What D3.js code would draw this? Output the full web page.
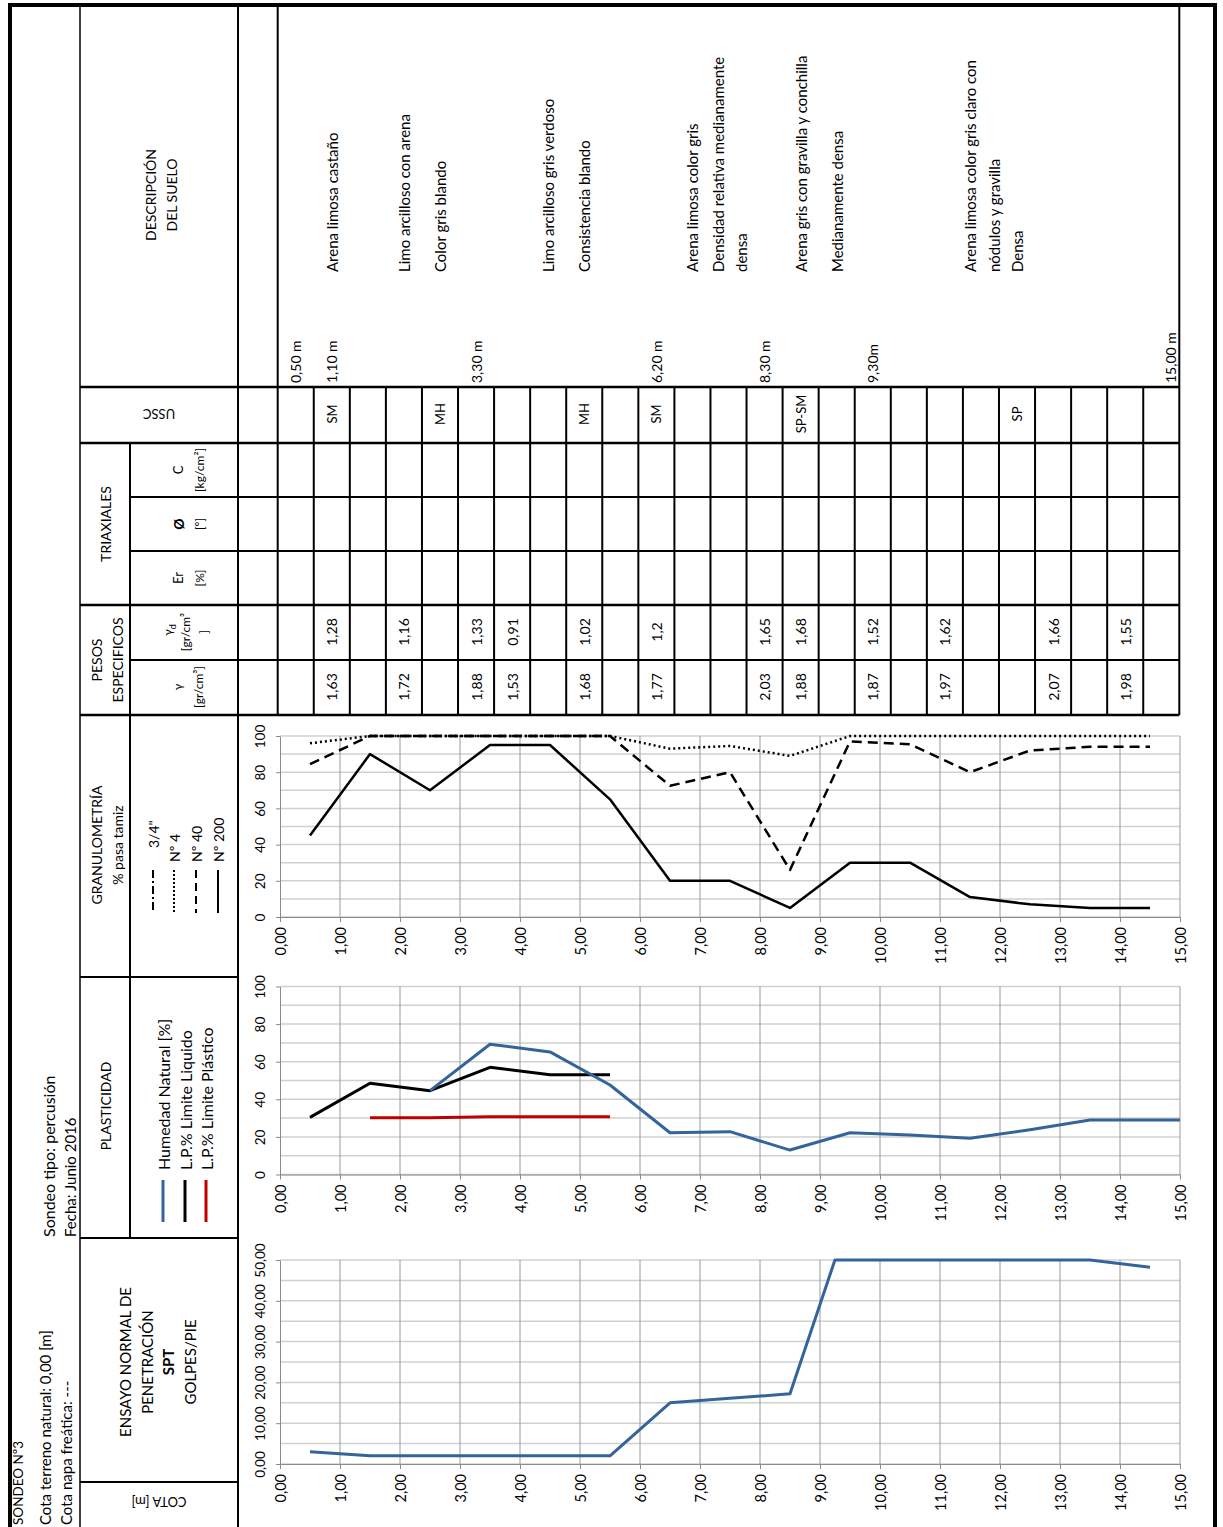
<!DOCTYPE html>
<html>
<head>
<meta charset="utf-8">
<script src="https://cdn.jsdelivr.net/npm/d3@7"></script>
<style>
  body { margin: 0; background: #fff; }
  text { font-family: Lato, "Open Sans", sans-serif; fill: #000; }
</style>
</head>
<body>
<div id="chart"></div>
<script>
// ---- datos del sondeo ----
const profundidades = [0.5, 1.5, 2.5, 3.5, 4.5, 5.5, 6.5, 7.5, 8.5, 9.5, 10.5, 11.5, 12.5, 13.5, 14.5];
const pasaTres4 = [null, 100, 100, 100, 100, 100, null, null, null, null, null, null, null, null, null];
const pasaN4 = [96, 100, 100, 100, 100, 100, 93, 94.5, 89, 100, 100, 100, 100, 100, 100];
const pasaN40 = [84.5, 100, 100, 100, 100, 100, 72.5, 80, 26, 97, 95.5, 80, 92, 94, 94];
const pasaN200 = [45, 90, 70, 95, 95, 65, 20, 20, 5, 30, 30, 11, 7, 5, 5];

const profHumedad = [2.5, 3.5, 4.5, 5.5, 6.5, 7.5, 8.5, 9.5, 10.5, 11.5, 12.5, 13.5, 14.5, 15];
const humedad = [44.6, 69.3, 65.2, 47.6, 22.2, 22.8, 13, 22.2, 21, 19.3, 23.8, 29, 29, 29];
const profLimites = [0.5, 1.5, 2.5, 3.5, 4.5, 5.5];
const limLiquido = [30.4, 48.5, 44.6, 57, 53, 53];
const limPlastico = [null, 30.2, 30.2, 30.7, 30.7, 30.7];

const golpesSPT = [3, 2, 2, 2, 2, 2, 15, 16.1, 17.2, 61, 50, 50, 50, 50, 48.2];

const profTicks = [0, 1, 2, 3, 4, 5, 6, 7, 8, 9, 10, 11, 12, 13, 14, 15];

// tabla (columnas de la grilla superior)
const usscCols = [1, 4, 8, 10, 14, 20];
const usscLabels = ["SM", "MH", "MH", "SM", "SP-SM", "SP"];
const pesosCols = [1, 3, 5, 6, 8, 10, 13, 14, 16, 18, 21, 23];
const gammaD = [1.28, 1.16, 1.33, 0.91, 1.02, 1.2, 1.65, 1.68, 1.52, 1.62, 1.66, 1.55];
const gamma = [1.63, 1.72, 1.88, 1.53, 1.68, 1.77, 2.03, 1.88, 1.87, 1.97, 2.07, 1.98];

const cotaCols = [0, 1, 5, 10, 13, 16, 24.25];
const cotaLabels = ["0,50 m", "1,10 m", "3,30 m", "6,20 m", "8,30 m", "9,30m", "15,00 m"];
const descCols = [1, 3, 4, 7, 8, 11, 11.7, 12.35, 14, 15, 18.7, 19.35, 20];
const descTextos = [
  "Arena limosa castaño",
  "Limo arcilloso con arena", "Color gris blando",
  "Limo arcilloso gris verdoso", "Consistencia blando",
  "Arena limosa color gris", "Densidad relativa medianamente", "densa",
  "Arena gris con gravilla y conchilla", "Medianamente densa",
  "Arena limosa color gris claro con", "nódulos y gravilla", "Densa"
];

// ---- lienzo ----
const width = 1223, height = 1527;
const svg = d3.select("#chart").append("svg")
  .attr("width", width).attr("height", height);

const coma = v => String(v).replace(".", ",");
const fmt2 = v => d3.format(".2f")(v).replace(".", ",");

// escala de columnas de la tabla y de profundidad
const col = d3.scaleLinear().domain([0, 25]).range([277.7, 1179.3]);
const x = d3.scaleLinear().domain([0, 15]).range([280, 1180]);

function linea(x1, y1, x2, y2, w) {
  svg.append("line").attr("x1", x1).attr("y1", y1).attr("x2", x2).attr("y2", y2)
    .attr("stroke", "#000").attr("stroke-width", w || 2);
}

function vtext(px, py, str, o = {}) {
  return svg.append("text")
    .attr("transform", `translate(${px},${py}) rotate(${o.rot || -90})`)
    .attr("text-anchor", o.anchor || "middle")
    .attr("dominant-baseline", "central")
    .style("font-size", (o.size || 14) + "px")
    .style("font-weight", o.bold ? "bold" : null)
    .text(str);
}

// ---- grilla de la tabla ----
linea(80, 5, 80, 1527, 1.5);
linea(238, 5, 238, 1527, 2);
linea(col(0), 5, col(0), 715, 2);
linea(col(25), 5, col(25), 715, 2);
d3.range(1, 25).forEach(i => linea(col(i), 387, col(i), 715, 2));
[387, 443, 605, 715].forEach(yy => linea(80, yy, col(25), yy, 2.5));
[497, 551, 660].forEach(yy => linea(130, yy, col(25), yy, 2));
linea(130, 443, 130, 1238, 2);
[977, 1238, 1482].forEach(yy => linea(80, yy, 238, yy, 2));

// marco exterior
svg.append("rect").attr("x", 10).attr("y", 5).attr("width", 1205).attr("height", 1530)
  .attr("fill", "none").attr("stroke", "#000").attr("stroke-width", 4);

// ---- encabezados ----
vtext(150, 195, "DESCRIPCIÓN");
vtext(171, 195, "DEL SUELO");
vtext(159, 414, "USSC", { rot: 180, size: 13 });
vtext(105, 524, "TRIAXIALES");
vtext(178, 470, "C", { size: 13 }); vtext(199, 470, "[kg/cm²]", { size: 12 });
vtext(178, 524, "Ø", { size: 14, bold: true }); vtext(199, 524, "[º]", { size: 12 });
vtext(178, 578, "Er", { size: 13 }); vtext(199, 578, "[%]", { size: 12 });
vtext(96, 660, "PESOS");
vtext(117, 660, "ESPECIFICOS");
const gd = vtext(167, 630, "γ", { size: 12 });
gd.append("tspan").attr("baseline-shift", "sub").style("font-size", "9px").text("d");
vtext(185, 632, "[gr/cm³", { size: 12 });
vtext(203, 632, "]", { size: 12 });
vtext(177, 687, "γ", { size: 12 });
vtext(198, 687, "[gr/cm³]", { size: 12 });
vtext(96, 845, "GRANULOMETRÍA");
vtext(117, 845, "% pasa tamiz");
vtext(105, 1106, "PLASTICIDAD");
vtext(125, 1362, "ENSAYO NORMAL DE", { size: 15 });
vtext(147, 1362, "PENETRACIÓN", { size: 15 });
vtext(168, 1362, "SPT", { bold: true, size: 15 });
vtext(190, 1362, "GOLPES/PIE", { size: 15 });
vtext(159, 1502, "COTA [m]", { rot: 180, size: 13 });

vtext(18, 1525, "SONDEO Nº3", { anchor: "start", size: 13.5 });
vtext(45, 1525, "Cota terreno natural: 0,00 [m]", { anchor: "start", size: 15 });
vtext(66, 1525, "Cota napa freática: ---", { anchor: "start", size: 15 });
vtext(48, 1237, "Sondeo tipo: percusión", { anchor: "start", size: 16 });
vtext(70, 1237, "Fecha: Junio 2016", { anchor: "start", size: 15 });

// ---- descripción del suelo ----
cotaCols.forEach((c, i) => vtext(col(c + 0.5), 383, cotaLabels[i], { anchor: "start" }));
descCols.forEach((c, i) => vtext(col(c + 0.5), 272, descTextos[i], { anchor: "start", size: 15 }));

// ---- USSC y pesos específicos ----
usscCols.forEach((c, i) => vtext(col(c + 0.5), 414, usscLabels[i], { size: 13 }));
pesosCols.forEach((c, i) => {
  vtext(col(c + 0.5), 632, coma(gammaD[i]));
  vtext(col(c + 0.5), 687, coma(gamma[i]));
});

// ---- gráficos ----
function grafico(y0, y1, maxY, pasoGrid, pasoLabel, fmtY) {
  const y = d3.scaleLinear().domain([0, maxY]).range([y0, y1]);
  const g = svg.append("g");
  g.selectAll("line.h").data(d3.range(0, maxY + pasoGrid / 2, pasoGrid)).enter()
    .append("line").attr("class", "h")
    .attr("x1", x(0)).attr("x2", x(15))
    .attr("y1", d => y(d)).attr("y2", d => y(d))
    .attr("stroke", "#d0d0d0").attr("stroke-width", 1.5);
  g.selectAll("line.v").data(profTicks.slice(1)).enter()
    .append("line").attr("class", "v")
    .attr("x1", d => x(d)).attr("x2", d => x(d))
    .attr("y1", y(0)).attr("y2", y(maxY))
    .attr("stroke", "#9a9a9a").attr("stroke-width", 1);

  const ax = g.append("g").attr("transform", `translate(0,${y0})`)
    .call(d3.axisBottom(x).tickValues(profTicks).tickFormat(fmt2).tickSize(5).tickSizeOuter(0));
  ax.select(".domain").attr("stroke", "#8a8a8a");
  ax.selectAll(".tick line").attr("stroke", "#8a8a8a");
  ax.selectAll("text")
    .attr("transform", "rotate(-90)")
    .attr("text-anchor", "end")
    .attr("x", -10).attr("y", 0).attr("dy", "0.35em")
    .style("font-size", "14.5px").style("font-family", "Lato, sans-serif").attr("fill", "#000");

  const ay = g.append("g").attr("transform", `translate(${x(0)},0)`)
    .call(d3.axisLeft(y).tickValues(d3.range(0, maxY + 1, pasoLabel)).tickFormat(fmtY).tickSize(4).tickSizeOuter(0));
  ay.select(".domain").attr("stroke", "#8a8a8a");
  ay.selectAll(".tick line").attr("stroke", "#8a8a8a");
  ay.selectAll("text")
    .attr("transform", "rotate(-90)")
    .attr("text-anchor", "middle")
    .attr("x", 0).attr("y", -15).attr("dy", 0)
    .style("font-size", "13.5px").style("font-family", "Lato, sans-serif").attr("fill", "#000");
  return { g, y };
}

function serie(ch, profs, vals, color, w, dash) {
  const pts = profs.map((p, i) => [p, vals[i]]);
  const line = d3.line().defined(d => d[1] != null)
    .x(d => x(d[0])).y(d => ch.y(d[1]));
  ch.g.append("path").datum(pts)
    .attr("d", line).attr("fill", "none")
    .attr("stroke", color).attr("stroke-width", w)
    .attr("stroke-dasharray", dash || null)
    .attr("stroke-linejoin", "round");
}

// recorta la serie al máximo del eje (como lo hace la planilla)
function recortar(profs, vals, max) {
  const out = [];
  vals.forEach((v, i) => {
    if (i > 0) {
      const q = vals[i - 1];
      if ((q - max) * (v - max) < 0) {
        const t = (max - q) / (v - q);
        out.push([profs[i - 1] + t * (profs[i] - profs[i - 1]), max]);
      }
    }
    out.push([profs[i], Math.min(v, max)]);
  });
  return out;
}

// granulometría
const gran = grafico(917, 736, 100, 10, 20, d => d);
serie(gran, profundidades, pasaN200, "#000", 2.5);
serie(gran, profundidades, pasaN40, "#000", 2.5, "10,6");
serie(gran, profundidades, pasaN4, "#000", 2.5, "2,3");
serie(gran, profundidades, pasaTres4, "#000", 2.5, "8,3,2,3");

// plasticidad
const plas = grafico(1174.5, 986.5, 100, 10, 20, d => d);
serie(plas, profLimites, limPlastico, "#c00000", 3);
serie(plas, profLimites, limLiquido, "#000", 3);
serie(plas, profHumedad, humedad, "#35649a", 3);

// SPT
const spt = grafico(1464, 1260, 50, 5, 10, fmt2);
const sptPts = recortar(profundidades, golpesSPT, 50);
serie(spt, sptPts.map(d => d[0]), sptPts.map(d => d[1]), "#35649a", 3);

// ---- leyendas ----
const granLeyenda = ["3/4\"", "Nº 4", "Nº 40", "Nº 200"];
const granDash = ["8,3,2,3", "2,2", "8,5", null];
const granLeyX = [153, 174, 196, 218];
const granLeyY = [848, 862, 862, 862];
granLeyenda.forEach((t, i) => {
  svg.append("line").attr("x1", granLeyX[i]).attr("x2", granLeyX[i])
    .attr("y1", 870).attr("y2", 913)
    .attr("stroke", "#000").attr("stroke-width", 2)
    .attr("stroke-dasharray", granDash[i]);
  vtext(granLeyX[i], granLeyY[i], t, { anchor: "start", size: 14 });
});

const plasLeyenda = ["Humedad Natural [%]", "L.P.% Limite Liquido", "L.P.% Limite Plástico"];
const plasColores = ["#35649a", "#000", "#c00000"];
const plasLeyX = [163, 185, 206];
plasLeyenda.forEach((t, i) => {
  svg.append("line").attr("x1", plasLeyX[i]).attr("x2", plasLeyX[i])
    .attr("y1", 1180).attr("y2", 1222)
    .attr("stroke", plasColores[i]).attr("stroke-width", 3);
  vtext(plasLeyX[i], 1170, t, { anchor: "start", size: 16 });
});
</script>
</body>
</html>
